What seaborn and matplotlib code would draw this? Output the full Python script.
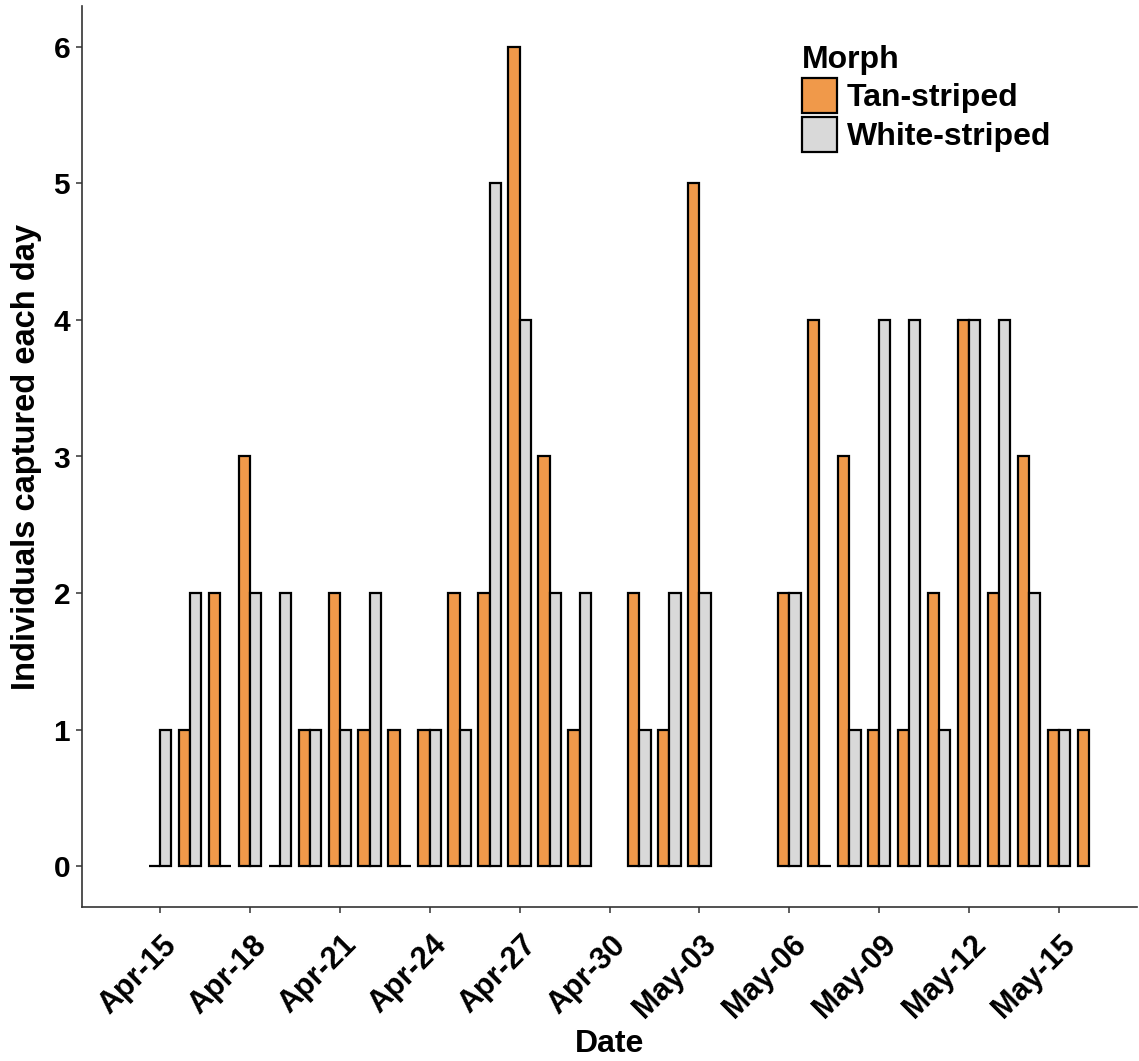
import numpy as np
import pandas as pd
import matplotlib
matplotlib.use("Agg")
import matplotlib.pyplot as plt
import matplotlib.dates as mdates
import matplotlib.transforms as mtrans
import seaborn as sns

# ---------------- data ----------------
dates = pd.date_range("2016-04-15", "2016-05-16", freq="D")
tan_striped = [0, 1, 2, 3, 0, 1, 2, 1, 1, 1, 2, 2, 6, 3, 1, None,
               2, 1, 5, None, None, 2, 4, 3, 1, 1, 2, 4, 2, 3, 1, 1]
white_striped = [1, 2, 0, 2, 2, 1, 1, 2, 0, 1, 1, 5, 4, 2, 2, None,
                 1, 2, 2, None, None, 2, 0, 1, 4, 4, 1, 4, 4, 2, 1, None]
morphs = ["Tan-striped", "White-striped"]
colors = ["#F0994A", "#D9D9D9"]
tick_dates = pd.date_range("2016-04-15", "2016-05-15", freq="3D")
tick_labels = ["Apr-15", "Apr-18", "Apr-21", "Apr-24", "Apr-27", "Apr-30",
               "May-03", "May-06", "May-09", "May-12", "May-15"]

rows = []
for d, t, w in zip(dates, tan_striped, white_striped):
    if t is not None:
        rows.append((mdates.date2num(d), t, morphs[0]))
    if w is not None:
        rows.append((mdates.date2num(d), w, morphs[1]))
df = pd.DataFrame(rows, columns=["day", "count", "Morph"])

# ---------------- style ----------------
sns.set_theme(style="white")
plt.rcParams["font.family"] = ["Liberation Sans", "DejaVu Sans"]
plt.rcParams["font.weight"] = "bold"
plt.rcParams["axes.labelweight"] = "bold"
plt.rcParams["text.color"] = "black"
plt.rcParams["axes.labelcolor"] = "black"
plt.rcParams["xtick.labelcolor"] = "black"
plt.rcParams["ytick.labelcolor"] = "black"

fig = plt.figure(figsize=(11.39, 10.61), dpi=100)
ax = fig.add_axes([82 / 1139, 154 / 1061, (1137 - 82) / 1139, (1055 - 154) / 1061])

sns.barplot(data=df, x="day", y="count", hue="Morph", hue_order=morphs,
            palette=colors, saturation=1, native_scale=True, width=0.75, errorbar=None,
            edgecolor="black", linewidth=1.6, ax=ax)

x0 = mdates.date2num(dates[0])
ax.set_xlim(x0 - 2.6, x0 + 32.6)
ax.set_ylim(-0.3, 6.3)
ax.set_xticks(mdates.date2num(tick_dates))
ax.set_xticklabels(tick_labels, rotation=45, ha="right", va="top",
                   rotation_mode="anchor", fontsize=22, fontweight="bold", color="black")
ax.set_yticks(range(0, 7))
ax.set_yticklabels([str(v) for v in range(0, 7)], fontsize=21.5, fontweight="bold", color="black")

ax.set_xlabel("Date", fontsize=23, fontweight="bold", color="black")
ax.set_ylabel("Individuals captured each day", fontsize=23.5, fontweight="bold", color="black")
ax.xaxis.set_label_coords(0.5, -0.1354)
ax.yaxis.set_label_coords(-0.0379, 0.5)

for s in ["top", "right"]:
    ax.spines[s].set_visible(False)
for s in ["left", "bottom"]:
    ax.spines[s].set_color("#333333")
    ax.spines[s].set_linewidth(1.2)
ax.tick_params(axis="both", which="major", length=4.5, width=1.1, color="#333333",
               bottom=True, left=True, pad=4)

# shift x tick labels like ggplot's angle=45,hjust=1,vjust=1
off = mtrans.ScaledTranslation(1 / 72, -8 / 72, fig.dpi_scale_trans)
for lab in ax.get_xticklabels():
    lab.set_transform(lab.get_transform() + off)

# legend
handles, labels = ax.get_legend_handles_labels()
leg = ax.legend(handles, labels, title="Morph", loc="upper left",
                bbox_to_anchor=(802 / 1139, 1 - 45 / 1061), bbox_transform=fig.transFigure,
                frameon=False, fontsize=23, title_fontproperties={"weight": "bold", "size": 23},
                handlelength=1.1, handleheight=1.31, labelspacing=0.1, handletextpad=0.3,
                borderpad=0, borderaxespad=0, alignment="left")
for h in leg.legend_handles:
    h.set_edgecolor("black")
    h.set_linewidth(1.6)

fig.savefig("out.png", dpi=100)
